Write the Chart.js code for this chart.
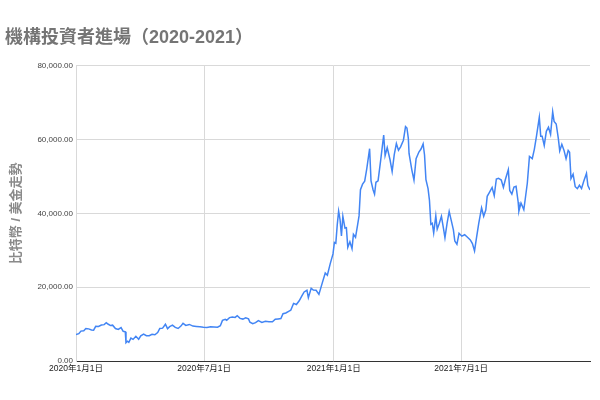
<!DOCTYPE html>
<html>
<head>
  <meta charset="utf-8">
  <title>機構投資者進場</title>
  <script src="https://cdn.jsdelivr.net/npm/chart.js"></script>
  <style>body{margin:0;background:#fff}</style>
</head>
<body>
  <canvas id="btcChart" width="600" height="400"></canvas>
  <script>
    const dates = [
      '2020-01-01','2020-01-05','2020-01-08','2020-01-12','2020-01-15','2020-01-19','2020-01-23','2020-01-26','2020-01-29',
      '2020-02-02','2020-02-06','2020-02-10','2020-02-13','2020-02-16','2020-02-19','2020-02-22','2020-02-26',
      '2020-03-01','2020-03-05','2020-03-08','2020-03-11','2020-03-12','2020-03-14','2020-03-16','2020-03-19','2020-03-22','2020-03-26','2020-03-30',
      '2020-04-02','2020-04-06','2020-04-10','2020-04-14','2020-04-18','2020-04-22','2020-04-26','2020-04-29',
      '2020-05-03','2020-05-07','2020-05-10','2020-05-13','2020-05-17','2020-05-21','2020-05-25','2020-05-29',
      '2020-06-01','2020-06-05','2020-06-10','2020-06-15','2020-06-20','2020-06-25','2020-06-30',
      '2020-07-05','2020-07-10','2020-07-15','2020-07-20','2020-07-24','2020-07-27','2020-07-31',
      '2020-08-02','2020-08-06','2020-08-10','2020-08-14','2020-08-17','2020-08-21','2020-08-25','2020-08-29',
      '2020-09-02','2020-09-04','2020-09-08','2020-09-12','2020-09-16','2020-09-21','2020-09-26',
      '2020-10-01','2020-10-06','2020-10-10','2020-10-14','2020-10-18','2020-10-21','2020-10-25','2020-10-29',
      '2020-11-01','2020-11-05','2020-11-09','2020-11-13','2020-11-17','2020-11-20','2020-11-24','2020-11-26','2020-11-30',
      '2020-12-03','2020-12-07','2020-12-11','2020-12-16','2020-12-20','2020-12-23','2020-12-27','2020-12-31',
      '2021-01-02','2021-01-04','2021-01-06','2021-01-08','2021-01-10','2021-01-12','2021-01-14','2021-01-17','2021-01-19','2021-01-21','2021-01-24','2021-01-27','2021-01-29',
      '2021-02-01','2021-02-04','2021-02-06','2021-02-08','2021-02-11','2021-02-14','2021-02-17','2021-02-21','2021-02-23','2021-02-26','2021-02-28',
      '2021-03-02','2021-03-05','2021-03-09','2021-03-13','2021-03-15','2021-03-18','2021-03-22','2021-03-25','2021-03-28','2021-03-31',
      '2021-04-03','2021-04-06','2021-04-10','2021-04-13','2021-04-15','2021-04-17','2021-04-18','2021-04-22','2021-04-25','2021-04-28',
      '2021-05-02','2021-05-05','2021-05-08','2021-05-10','2021-05-12','2021-05-15','2021-05-17','2021-05-19','2021-05-21','2021-05-23','2021-05-26','2021-05-28','2021-05-31',
      '2021-06-03','2021-06-06','2021-06-08','2021-06-11','2021-06-14','2021-06-17','2021-06-20','2021-06-22','2021-06-25','2021-06-28',
      '2021-07-02','2021-07-06','2021-07-10','2021-07-14','2021-07-17','2021-07-20','2021-07-23','2021-07-26','2021-07-30',
      '2021-08-02','2021-08-05','2021-08-07','2021-08-10','2021-08-14','2021-08-17','2021-08-20','2021-08-23','2021-08-27','2021-08-30',
      '2021-09-02','2021-09-06','2021-09-08','2021-09-11','2021-09-14','2021-09-17','2021-09-20','2021-09-21','2021-09-24','2021-09-28','2021-09-30',
      '2021-10-03','2021-10-06','2021-10-10','2021-10-13','2021-10-16','2021-10-20','2021-10-22','2021-10-24','2021-10-27','2021-10-30',
      '2021-11-02','2021-11-05','2021-11-08','2021-11-10','2021-11-13','2021-11-16','2021-11-18','2021-11-21','2021-11-24','2021-11-27','2021-11-30',
      '2021-12-02','2021-12-04','2021-12-07','2021-12-10','2021-12-13','2021-12-16','2021-12-19','2021-12-22','2021-12-26','2021-12-28','2021-12-31'
    ];
    const prices = [
      7200,7400,8100,8200,8800,8700,8400,8350,9400,
      9350,9750,9850,10350,9950,9600,9700,8800,
      8550,9050,8050,7900,4950,5350,5050,6200,5850,6700,5900,
      6800,7300,6850,6850,7250,7100,7700,8800,
      8900,9950,8750,9300,9700,9100,8800,9450,
      10200,9650,9900,9450,9350,9250,9150,
      9100,9250,9200,9150,9550,11000,11300,
      11050,11750,11900,11800,12250,11550,11350,11700,
      11400,10500,10100,10400,10950,10450,10750,
      10600,10600,11300,11400,11500,12800,13000,13450,
      13750,15600,15300,16300,17700,18700,19150,17150,19700,
      19200,19150,18050,21300,23850,23250,26300,29000,
      32100,31900,36800,40600,38300,33900,39200,36000,36100,30800,32300,30400,34300,
      33500,36900,39300,46400,47900,48700,52100,57500,48800,46300,45200,
      48400,48800,54800,61200,55600,57800,54500,51300,55900,58900,
      57100,58000,59800,63500,63100,60300,56200,51700,49000,54800,
      56600,57400,58800,55800,49100,46700,43500,37000,37300,34700,39300,35700,37300,
      39200,35800,33400,37300,40500,38000,35500,32500,31600,34600,
      33800,34200,33500,32800,31800,29800,33600,37300,41500,
      39200,40900,44600,45600,47000,44800,49300,49500,49000,47000,
      49300,51800,46200,45200,47100,47300,43000,40600,42800,41000,43800,
      48200,55400,54800,57400,60900,66000,60900,60900,58400,62200,
      63300,61400,67500,64900,64200,60300,56900,58700,57100,54800,57000,
      56500,49400,50600,47200,46700,47600,46700,48600,50800,47500,46300
    ];
    const tickDates = ['2020-01-01','2020-07-01','2021-01-01','2021-07-01'];
    const tickLabels = ['2020年1月1日','2020年7月1日','2021年1月1日','2021年7月1日'];
    const lastDate = '2021-12-31';

    const dayOf = s => {
      const [y, m, d] = s.split('-').map(Number);
      return (Date.UTC(y, m - 1, d) - Date.UTC(2020, 0, 1)) / 86400000;
    };
    const points = dates.map((d, i) => ({ x: dayOf(d), y: prices[i] }));
    const tickDays = tickDates.map(dayOf);

    Chart.defaults.font.family = 'Arial, "Liberation Sans", "Noto Sans CJK TC", sans-serif';

    new Chart(document.getElementById('btcChart'), {
      type: 'line',
      data: { datasets: [{ data: points, borderColor: '#4285f4', borderWidth: 1.5, pointRadius: 0, tension: 0 }] },
      options: {
        responsive: false,
        animation: false,
        layout: { padding: { left: 5, right: 10, top: 0, bottom: 0 } },
        plugins: {
          legend: { display: false },
          tooltip: { enabled: false },
          title: {
            display: true,
            text: '機構投資者進場（2020-2021）',
            align: 'start',
            color: '#757575',
            font: { size: 18, weight: 'bold' },
            padding: { top: 27, bottom: 17 }
          }
        },
        scales: {
          x: {
            type: 'linear',
            min: 0,
            max: dayOf(lastDate),
            afterBuildTicks: s => { s.ticks = tickDays.map(v => ({ value: v })); },
            afterFit: s => { s.height = 39; },
            ticks: {
              autoSkip: false,
              maxRotation: 0,
              padding: 3,
              color: '#222',
              font: { size: 8.5 },
              callback: v => tickLabels[tickDays.indexOf(v)]
            },
            grid: { color: '#d9d9d9', drawTicks: false },
            border: { color: '#333', width: 1 }
          },
          y: {
            min: 0,
            max: 80000,
            afterFit: s => { s.width = 71; },
            ticks: {
              stepSize: 20000,
              padding: 3,
              color: '#444',
              font: { size: 8 },
              callback: v => v.toLocaleString('en-US', { minimumFractionDigits: 2, maximumFractionDigits: 2 })
            },
            grid: { color: '#d9d9d9', drawTicks: false },
            border: { color: '#d9d9d9' },
            title: {
              display: true,
              text: '比特幣 / 美金走勢',
              color: '#8a8a8a',
              font: { size: 13, weight: 'bold' },
              padding: { top: 4, bottom: 0 }
            }
          }
        }
      }
    });
  </script>
</body>
</html>
